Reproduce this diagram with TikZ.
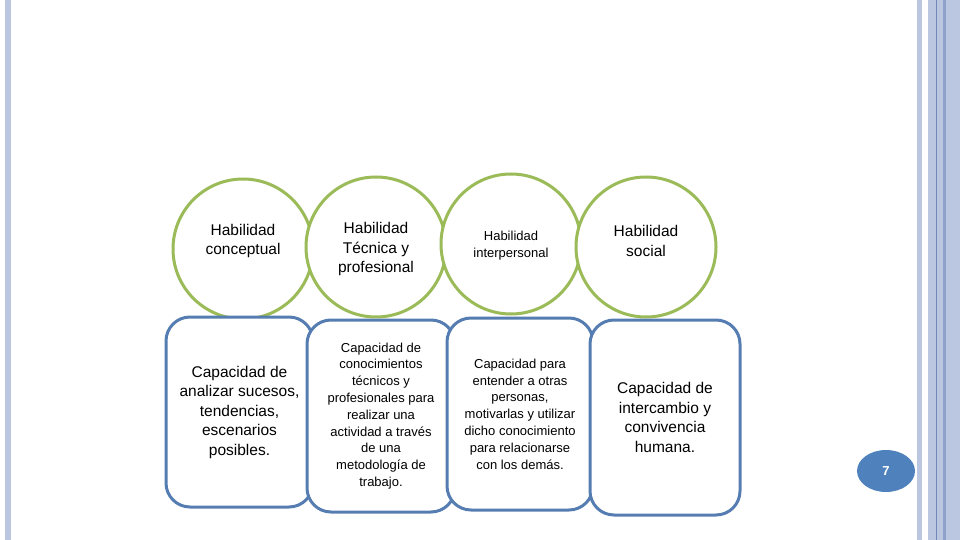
\documentclass[tikz,border=0pt]{standalone}
\usepackage{fontspec}
\setmainfont{Liberation Sans}
\usepackage{xcolor}
\usetikzlibrary{shapes.geometric}
\definecolor{habgreen}{RGB}{155,187,89}
\definecolor{capblue}{RGB}{86,125,178}
\definecolor{numblue}{RGB}{79,129,189}
\definecolor{barblue}{RGB}{187,199,224}
\definecolor{bardark}{RGB}{112,136,186}

\begin{document}
\begin{tikzpicture}[x=1pt,y=-1pt,
  hab/.style={draw=habgreen, line width=3pt, fill=white},
  capbox/.style={draw=capblue, line width=3pt, fill=white, rounded corners=24pt},
  big/.style={align=center, font=\fontsize{15.5}{19.5}\selectfont},
  small/.style={align=center, font=\fontsize{13}{16.8}\selectfont}]
\useasboundingbox (0,0) rectangle (960,540);
% side bars
\fill[barblue] (5,0) rectangle (11,540);
\fill[barblue] (917,0) rectangle (922,540);
\fill[barblue] (928,0) rectangle (960,540);
\fill[bardark] (935.5,0) rectangle (936.5,540);
\fill[bardark!60!barblue] (943,0) rectangle (946,540);
% habilidades
\draw[hab] (243,249) circle (70pt);
\draw[hab] (376,247) circle (70pt);
\draw[hab] (511,244) circle (70pt);
\draw[hab] (646,247) circle (70pt);
\node[big] (h1) at (243,241) {Habilidad\\conceptual};
\node[big] (h2) at (376,249) {Habilidad\\Técnica y\\profesional};
\node[small] (h3) at (511,246) {Habilidad\\interpersonal};
\node[big] (h4) at (646,241) {Habilidad\\social};
% capacidades
\filldraw[capbox] (166,317) rectangle (313,507) node[midway, big] (c1)
  {Capacidad de\\analizar sucesos,\\tendencias,\\escenarios\\posibles.};
\filldraw[capbox] (307,320) rectangle (455,512) node[midway, small] (c2)
  {Capacidad de\\conocimientos\\técnicos y\\profesionales para\\realizar una\\actividad a través\\de una\\metodología de\\trabajo.};
\filldraw[capbox] (447,318) rectangle (593,510) node[midway, small] (c3)
  {Capacidad para\\entender a otras\\personas,\\motivarlas y utilizar\\dicho conocimiento\\para relacionarse\\con los demás.};
\filldraw[capbox] (590,320) rectangle (740,515) node[midway, big] (c4)
  {Capacidad de\\intercambio y\\convivencia\\humana.};
% numero
\node[ellipse, fill=numblue, minimum width=58pt, minimum height=42pt, inner sep=0pt,
  text=white, font=\bfseries\fontsize{13}{13}\selectfont] (num) at (886,471) {7};
\end{tikzpicture}
\end{document}
